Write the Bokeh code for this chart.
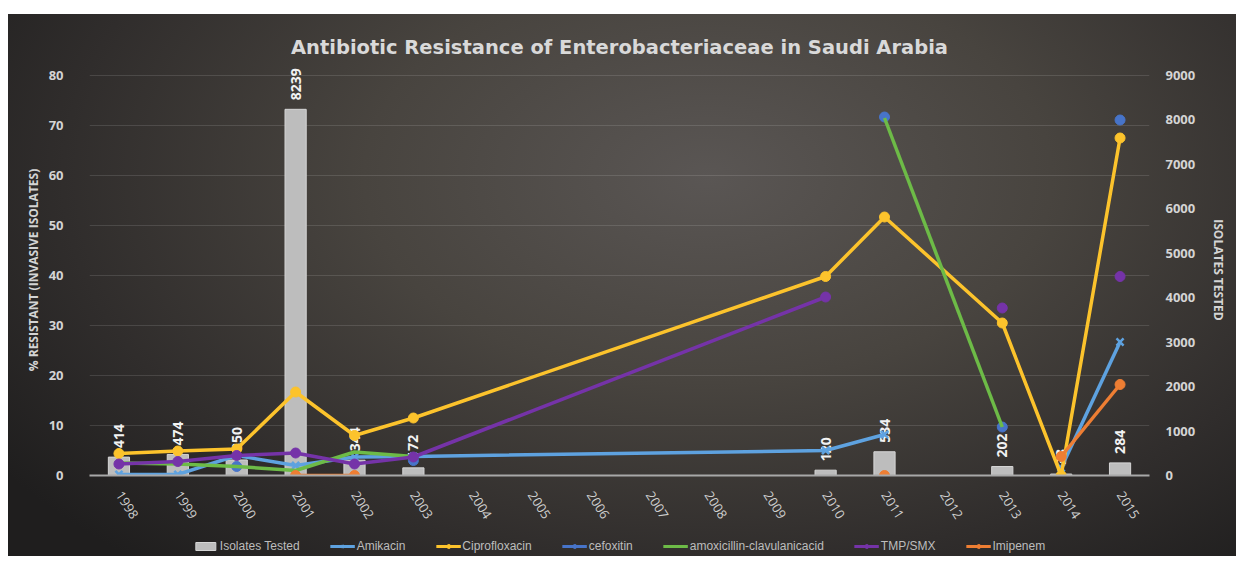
import math
from bokeh.plotting import figure
from bokeh.models import (Range1d, LinearAxis, FactorRange, ColumnDataSource, Legend,
                          LegendItem, Spacer, FixedTicker)
from bokeh.layouts import column, row
from bokeh.embed import file_html
from bokeh.resources import INLINE
from bokeh.core.properties import value

# ---------------- data ----------------
years = ["1998", "1999", "2000", "2001", "2002", "2003", "2004", "2005", "2006",
         "2007", "2008", "2009", "2010", "2011", "2012", "2013", "2014", "2015"]

isolates_tested = [414, 474, 350, 8239, 344, 172, None, None, None, None, None, None,
                   120, 534, None, 202, 33, 284]

amikacin = [0.2, 0.2, 4.0, 2.0, 3.7, 3.8, None, None, None, None, None, None,
            5.0, 8.2, None, None, 1.5, 26.7]
ciprofloxacin = [4.4, 4.9, 5.3, 16.7, 8.0, 11.5, None, None, None, None, None, None,
                 39.8, 51.7, None, 30.5, 0.0, 67.5]
cefoxitin = [None, None, 1.8, None, None, 3.0, None, None, None, None, None, None,
             None, 71.7, None, 9.7, None, 71.1]
amox_clav = [2.5, 2.3, 1.8, 1.0, 4.7, 3.8, None, None, None, None, None, None,
             None, 71.5, None, 9.7, None, None]
tmp_smx = [2.3, 2.8, 4.0, 4.5, 2.3, 3.7, None, None, None, None, None, None,
           35.7, None, None, 33.5, None, 39.8]
imipenem = [None, None, None, 0.0, 0.0, None, None, None, None, None, None, None,
            None, 0.0, None, None, 3.8, 18.2]

left_ticks = [0, 10, 20, 30, 40, 50, 60, 70, 80]
right_ticks = [0, 1000, 2000, 3000, 4000, 5000, 6000, 7000, 8000, 9000]

# years where a series' line is NOT connected from the previous point
breaks = {
    "Amikacin": ["2014"],
    "Ciprofloxacin": [],
    "cefoxitin": ["2003", "2011", "2013", "2015"],
    "amoxicillin-clavulanicacid": ["2011"],
    "TMP/SMX": ["2013", "2015"],
    "Imipenem": ["2011", "2014"],
}

series = [
    ("Amikacin", amikacin, "#5ea2e0", "x"),
    ("Ciprofloxacin", ciprofloxacin, "#fcc32c", "circle"),
    ("cefoxitin", cefoxitin, "#4774c9", "circle"),
    ("amoxicillin-clavulanicacid", amox_clav, "#6dbb47", None),
    ("TMP/SMX", tmp_smx, "#7533a8", "circle"),
    ("Imipenem", imipenem, "#ee7e33", "circle"),
]

W, H_MAIN, H_LEG = 1228, 522, 20
GRAD = "radial-gradient(ellipse 70% 95% at 57% 30%, #5a5654 0%, #48443f 40%, #302d2c 75%, #1f1e1e 100%)"

# ---------------- main figure ----------------
LEFT_TOP = 82.2
p = figure(width=W, height=H_MAIN, x_range=FactorRange(*years, range_padding=0),
           y_range=Range1d(0, LEFT_TOP), output_backend="svg", toolbar_location=None,
           min_border_left=81, min_border_right=87, min_border_top=50, min_border_bottom=61)
p.extra_y_ranges = {"iso": Range1d(0, LEFT_TOP * 9000 / 80)}

p.border_fill_color = None
p.background_fill_color = None
p.outline_line_color = None
p.styles = {"background": GRAD, "background-size": f"{W}px {H_MAIN + H_LEG}px",
            "background-position": "0px 0px"}

p.title.text = "Antibiotic Resistance of Enterobacteriaceae in Saudi Arabia"
p.title.align = "center"
p.title.text_font = "DejaVu Sans"
p.title.text_font_size = "19.5px"
p.title.text_font_style = "bold"
p.title.text_color = "#d9d9d9"
p.title.standoff = 12

# grid
p.xgrid.grid_line_color = None
p.ygrid.grid_line_color = "#ffffff"
p.ygrid.grid_line_alpha = 0.12
p.ygrid.ticker = FixedTicker(ticks=left_ticks)

# left axis
ya = p.yaxis[0]
ya.ticker = FixedTicker(ticks=left_ticks)
ya.axis_line_color = None
ya.major_tick_line_color = None
ya.minor_tick_line_color = None
ya.major_label_standoff = 20
ya.major_label_text_font = "Open Sans"
ya.major_label_text_font_size = "13px"
ya.major_label_text_font_style = "bold"
ya.major_label_text_color = "#d4d4d4"
ya.axis_label = "% RESISTANT (INVASIVE ISOLATES)"
ya.axis_label_text_font = "Open Sans"
ya.axis_label_text_font_size = "12px"
ya.axis_label_text_font_style = "bold"
ya.axis_label_text_color = "#d4d4d4"
ya.axis_label_standoff = 4

# right axis
ra = LinearAxis(y_range_name="iso", ticker=FixedTicker(ticks=right_ticks))
ra.axis_line_color = None
ra.major_tick_line_color = None
ra.minor_tick_line_color = None
ra.major_label_standoff = 10
ra.major_label_text_font = "Open Sans"
ra.major_label_text_font_size = "13px"
ra.major_label_text_font_style = "bold"
ra.major_label_text_color = "#d4d4d4"
ra.axis_label = "ISOLATES TESTED"
ra.axis_label_text_font = "Open Sans"
ra.axis_label_text_font_size = "12px"
ra.axis_label_text_font_style = "bold"
ra.axis_label_text_color = "#d4d4d4"
ra.axis_label_standoff = 12
p.add_layout(ra, "right")

# x axis
xa = p.xaxis[0]
xa.axis_line_color = "#a8a8a8"
xa.axis_line_width = 2
xa.major_tick_line_color = None
xa.minor_tick_line_color = None
xa.major_label_orientation = -1.0
xa.major_label_standoff = 11
xa.major_label_text_font = "Open Sans"
xa.major_label_text_font_size = "13px"
xa.major_label_text_color = "#cfcfcf"

# bars + data labels
bx = [y for y, v in zip(years, isolates_tested) if v is not None]
bv = [v for v in isolates_tested if v is not None]
bsrc = ColumnDataSource(dict(x=bx, top=bv, lab=[str(v) for v in bv]))
p.vbar(x="x", top="top", width=0.36, source=bsrc, y_range_name="iso",
       fill_color="#bdbdbd", line_color="#d6d6d6", line_width=1)
p.text(x="x", y="top", text="lab", source=bsrc, y_range_name="iso", angle=math.pi / 2,
       text_align="left", text_baseline="middle", y_offset=-9,
       text_font=value("Open Sans"), text_font_size="14px", text_font_style="bold",
       text_color="#f2f2f2")

for name, vals, color, marker in series:
    xs, ys, rx, ry = [], [], [], []
    px, py = [], []
    for yr, v in zip(years, vals):
        if v is None:
            continue
        if yr in breaks[name] and rx:
            xs.append(rx); ys.append(ry); rx, ry = [], []
        rx.append(yr); ry.append(v)
        px.append(yr); py.append(v)
    if rx:
        xs.append(rx); ys.append(ry)
    lines = [(a, b) for a, b in zip(xs, ys) if len(a) > 1]
    p.multi_line(xs=[a for a, b in lines], ys=[b for a, b in lines],
                 line_color=color, line_width=3.5)
    if marker == "x":
        p.scatter(px, py, marker="x", size=10, line_color=color, line_width=2.5)
    elif marker:
        p.scatter(px, py, marker="circle", size=10, fill_color=color, line_color=color)

# ---------------- legend strip ----------------
lg = figure(width=W, height=H_LEG, x_range=Range1d(0, 1), y_range=Range1d(0, 1),
            output_backend="svg", toolbar_location=None,
            x_axis_location=None, y_axis_location=None, min_border=0)
lg.border_fill_color = None
lg.background_fill_color = None
lg.outline_line_color = None
lg.xgrid.visible = False
lg.ygrid.visible = False
lg.styles = {"background": GRAD, "background-size": f"{W}px {H_MAIN + H_LEG}px",
             "background-position": f"0px -{H_MAIN}px"}

# legend swatches: one off-screen sample per series so the legend has a style to draw
OFF = [-5.0]
items = [LegendItem(label="Isolates Tested",
                    renderers=[lg.vbar(x=OFF, top=OFF, width=0.1, fill_color="#bdbdbd",
                                       line_color="#d6d6d6")])]
for name, vals, color, marker in series:
    rends = [lg.line(x=OFF * 2, y=OFF * 2, line_color=color, line_width=3)]
    if marker == "x":
        rends.append(lg.scatter(x=OFF, y=OFF, marker="x", size=7, line_color=color, line_width=2))
    elif marker:
        rends.append(lg.scatter(x=OFF, y=OFF, marker="circle", size=7, fill_color=color,
                                line_color=color))
    items.append(LegendItem(label=name, renderers=rends))

legend = Legend(items=items, orientation="horizontal", location="center",
                background_fill_alpha=0, border_line_color=None,
                label_text_font="Liberation Sans", label_text_font_size="12px",
                label_text_color="#bdbdbd", glyph_width=25, glyph_height=10,
                label_standoff=2, spacing=30, padding=0, margin=0)
lg.add_layout(legend, "center")

layout = column(Spacer(height=14), row(Spacer(width=8), column(p, lg, spacing=0)), spacing=0)
open("out.html", "w").write(file_html(layout, INLINE))
